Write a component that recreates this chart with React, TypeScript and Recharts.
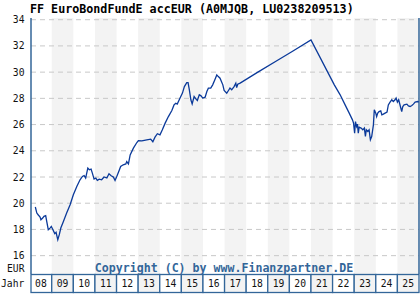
import { Line, LineChart, ReferenceArea, ReferenceLine, XAxis, YAxis } from "recharts";

// time in fractional years, values in EUR
const dates = [
  2008.24, 2008.31, 2008.37, 2008.46, 2008.5, 2008.58, 2008.64, 2008.72, 2008.77, 2008.84,
  2008.92, 2008.98, 2009.05, 2009.14, 2009.2, 2009.28, 2009.35, 2009.42, 2009.54, 2009.69,
  2009.85, 2010.0, 2010.16, 2010.31, 2010.42, 2010.5, 2010.57, 2010.67, 2010.74, 2010.82,
  2010.88, 2010.96, 2011.04, 2011.11, 2011.2, 2011.31, 2011.42, 2011.55, 2011.65, 2011.75,
  2011.85, 2011.93, 2012.01, 2012.12, 2012.19, 2012.31, 2012.43, 2012.47, 2012.55, 2012.63,
  2012.78, 2012.94, 2013.01, 2013.17, 2013.4, 2013.58, 2013.68, 2013.78, 2013.89, 2014.01,
  2014.12, 2014.25, 2014.4, 2014.56, 2014.66, 2014.74, 2014.81, 2014.94, 2015.05, 2015.14,
  2015.25, 2015.31, 2015.37, 2015.44, 2015.5, 2015.59, 2015.68, 2015.74, 2015.83, 2015.91,
  2015.99, 2016.1, 2016.18, 2016.25, 2016.36, 2016.45, 2016.56, 2016.64, 2016.71, 2016.79,
  2016.92, 2016.98, 2017.1, 2017.18, 2017.25, 2017.33, 2017.44, 2017.52, 2017.56, 2017.61,
  2017.72, 2018.56, 2019.34, 2020.11, 2021.0, 2022.08, 2022.35, 2022.58, 2022.77, 2022.92,
  2022.97, 2023.02, 2023.06, 2023.11, 2023.15, 2023.19, 2023.23, 2023.32, 2023.4, 2023.47,
  2023.52, 2023.56, 2023.63, 2023.69, 2023.75, 2023.81, 2023.89, 2023.93, 2024.0, 2024.04,
  2024.09, 2024.15, 2024.23, 2024.28, 2024.35, 2024.43, 2024.52, 2024.58, 2024.66, 2024.74,
  2024.81, 2024.89, 2024.94, 2025.0, 2025.06, 2025.14, 2025.2, 2025.25, 2025.31, 2025.44,
  2025.51, 2025.59, 2025.67, 2025.74, 2025.82, 2025.94, 2025.99,
];

const prices = [
  19.71, 19.25, 19.12, 18.95, 18.74, 18.87, 19.0, 19.05, 18.6, 17.98,
  18.1, 18.23, 18.0, 17.68, 17.78, 17.22, 17.6, 18.11, 18.6, 19.25,
  19.89, 20.65, 21.28, 21.79, 22.04, 22.1, 21.92, 22.68, 22.55, 22.6,
  22.3, 21.84, 21.92, 21.74, 21.84, 21.79, 22.0, 21.92, 22.25, 22.1,
  22.0, 21.74, 22.04, 22.5, 22.8, 22.93, 23.0, 23.18, 23.0, 23.69,
  24.2, 24.63, 24.78, 24.76, 24.84, 24.89, 24.69, 25.04, 25.3, 25.22,
  25.6, 26.11, 26.61, 27.07, 27.5, 27.63, 27.56, 28.02, 28.4, 28.9,
  29.2, 29.2, 28.65, 27.89, 27.58, 28.14, 27.94, 27.83, 28.27, 28.19,
  28.02, 28.09, 28.52, 28.78, 28.78, 29.03, 29.46, 29.79, 29.66, 29.54,
  29.03, 28.6, 28.4, 28.6, 28.78, 28.65, 28.9, 29.16, 28.82, 29.08,
  29.16, 30.02, 30.79, 31.56, 32.46, 29.03, 28.27, 27.5, 26.87, 26.36,
  26.11, 25.35, 26.23, 25.85, 26.03, 25.35, 25.8, 25.73, 25.6, 25.73,
  25.09, 25.6, 25.47, 25.6, 24.84, 25.09, 25.98, 27.12, 26.87, 26.61,
  26.87, 26.99, 27.05, 26.74, 26.8, 26.87, 26.95, 27.5, 27.71, 27.89,
  27.76, 27.89, 28.02, 27.71, 27.89, 27.38, 26.99, 27.38, 27.5, 27.56,
  27.43, 27.38, 27.45, 27.56, 27.71, 27.76, 27.71,
];

const yearLabels = ["08", "09", "10", "11", "12", "13", "14", "15", "16", "17", "18", "19", "20", "21", "22", "23", "24", "25"];
const yTicks = [16, 18, 20, 22, 24, 26, 28, 30, 32, 34];

const TITLE = "FF EuroBondFundE accEUR (A0MJQB, LU0238209513)";
const COPYRIGHT = "Copyright (C) by www.Finanzpartner.DE";

const X_MIN = 2008.04;
const X_MAX = 2026;
const PLOT_LEFT = 31;
const PLOT_RIGHT = 419;
const HALF_YEAR_PX = (PLOT_RIGHT - PLOT_LEFT) / (X_MAX - X_MIN) / 2;
const BORDER = "#336699";
const SHADE = "#f3f3f3";
const MONO = "'DejaVu Sans Mono', 'Liberation Mono', monospace";

const data = dates.map((t, i) => ({ t, v: prices[i] }));
const yearTicks = yearLabels.map((_, i) => 2008.5 + i);
const shadedYears = yearLabels.map((_, i) => 2008 + i).filter((y) => y % 2 === 1);

function YearTick(props: any) {
  const { x, payload, index } = props;
  const year = Math.floor(payload.value);
  const left = Math.max(x - HALF_YEAR_PX, PLOT_LEFT);
  const right = Math.min(x + HALF_YEAR_PX, PLOT_RIGHT);
  return (
    <g>
      <rect
        x={left}
        y={274.5}
        width={right - left}
        height={18}
        fill={year % 2 === 1 ? SHADE : "#fff"}
        stroke={BORDER}
        strokeWidth={1.3}
      />
      <text x={x} y={287.3} textAnchor="middle" fontFamily={MONO} fontSize={9.7} fill="#111">
        {yearLabels[index] ?? String(year).slice(2)}
      </text>
    </g>
  );
}

function PriceTick(props: any) {
  const { y, payload } = props;
  return (
    <text x={24.5} y={y + 3.5} textAnchor="end" fontFamily={MONO} fontSize={9.7} fill="#111">
      {payload.value}
    </text>
  );
}

export default function App() {
  return (
    <div style={{ position: "fixed", left: 0, top: 0, width: 420, height: 300, background: "#fff" }}>
      <LineChart width={420} height={300} data={data} margin={{ top: 18, right: 1, bottom: 0, left: 0 }}>
        <XAxis
          type="number"
          dataKey="t"
          domain={[X_MIN, X_MAX]}
          ticks={yearTicks}
          interval={0}
          allowDataOverflow
          height={26}
          axisLine={false}
          tickLine={false}
          tickSize={0}
          tickMargin={0}
          tick={<YearTick />}
        />
        <YAxis
          type="number"
          domain={[14.6, 34.13]}
          ticks={yTicks}
          interval={0}
          allowDataOverflow
          width={31}
          axisLine={false}
          tickLine={false}
          tick={<PriceTick />}
        />
        {shadedYears.map((y) => (
          <ReferenceArea
            key={y}
            x1={y}
            x2={Math.min(y + 1, X_MAX)}
            fill={SHADE}
            fillOpacity={1}
            strokeWidth={0}
          />
        ))}
        {yTicks.map((v) => (
          <ReferenceLine key={v} y={v} stroke="#c8c8c8" strokeDasharray="5 4" strokeWidth={1} />
        ))}
        <ReferenceLine x={X_MIN} stroke={BORDER} strokeWidth={1.5} />
        <ReferenceLine x={X_MAX} stroke={BORDER} strokeWidth={1.5} />
        <Line
          type="linear"
          dataKey="v"
          stroke="#0b3a9a"
          strokeWidth={1.3}
          dot={false}
          isAnimationActive={false}
        />
      </LineChart>
      <svg
        width={420}
        height={300}
        style={{ position: "absolute", left: 0, top: 0, pointerEvents: "none" }}
      >
        <text x={30} y={12.7} fontFamily={MONO} fontWeight="bold" fontSize={11.7} fill="#000">
          {TITLE}
        </text>
        <text x={24.5} y={271.7} textAnchor="end" fontFamily={MONO} fontSize={9.7} fill="#111">
          EUR
        </text>
        <text x={1} y={287.3} fontFamily={MONO} fontSize={9.7} fill="#111">
          Jahr
        </text>
        <text
          x={224}
          y={272}
          textAnchor="middle"
          fontFamily={MONO}
          fontWeight="bold"
          fontSize={11.6}
          fill={BORDER}
        >
          {COPYRIGHT}
        </text>
      </svg>
    </div>
  );
}
